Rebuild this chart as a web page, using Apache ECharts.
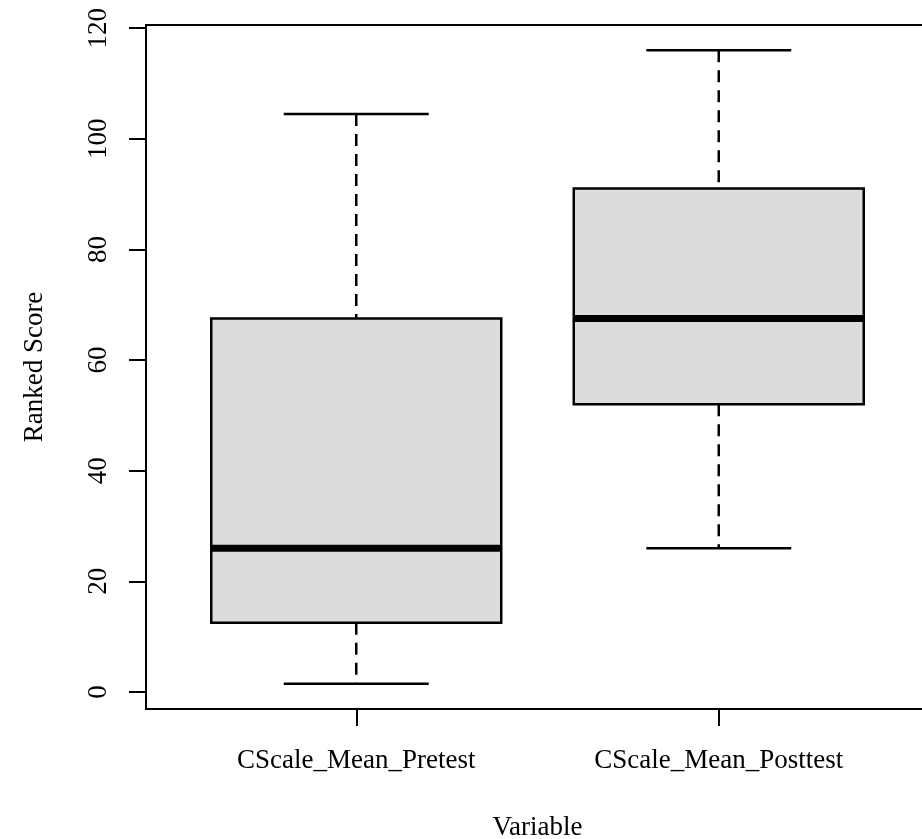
<!DOCTYPE html>
<html>
<head>
<meta charset="utf-8">
<script src="https://cdn.jsdelivr.net/npm/echarts@6/dist/echarts.min.js"></script>
<style>
html,body{margin:0;padding:0;background:#fff;}
#chart{width:922px;height:839px;}
</style>
</head>
<body>
<div id="chart"></div>
<script>
const categories = ['CScale_Mean_Pretest', 'CScale_Mean_Posttest'];
const lowWhisker = [1.5, 26];
const q1 = [12.5, 52];
const median = [26, 67.5];
const q3 = [67.5, 91];
const highWhisker = [104.5, 116];
const yTicks = [0, 20, 40, 60, 80, 100, 120];
const xTicks = [1, 2];

const FONT = '"Liberation Serif", "DejaVu Serif", serif';
const data = categories.map((c, i) => [i + 1, lowWhisker[i], q1[i], median[i], q3[i], highWhisker[i]]);

const chart = echarts.init(document.getElementById('chart'), null, {renderer: 'canvas'});
chart.setOption({
  animation: false,
  backgroundColor: '#fff',
  grid: {left: 146, top: 25, width: 783, height: 684, show: true, borderColor: '#000', borderWidth: 2,
    backgroundColor: 'transparent', containLabel: false, outerBoundsMode: 'none'},
  xAxis: {
    type: 'value', min: 0.42, max: 2.58,
    splitLine: {show: false},
    axisLine: {show: false, onZero: false},
    axisTick: {show: true, customValues: xTicks, length: 17, lineStyle: {color: '#000', width: 2}},
    axisLabel: {customValues: xTicks, formatter: v => categories[Math.round(v) - 1] || '', margin: 38,
      color: '#000', fontFamily: FONT, fontSize: 27},
    name: 'Variable', nameLocation: 'middle', nameGap: 105,
    nameTextStyle: {color: '#000', fontFamily: FONT, fontSize: 27}
  },
  yAxis: {
    type: 'value', min: -3.08, max: 120.58,
    splitLine: {show: false},
    axisLine: {show: false, onZero: false},
    axisTick: {show: true, customValues: yTicks, length: 17, lineStyle: {color: '#000', width: 2}},
    axisLabel: {customValues: yTicks, rotate: 90, margin: 34, color: '#000', fontFamily: FONT, fontSize: 27},
    name: 'Ranked Score', nameLocation: 'middle', nameGap: 98, nameRotate: 90,
    nameTextStyle: {color: '#000', fontFamily: FONT, fontSize: 27}
  },
  series: [{
    type: 'custom',
    data: data,
    encode: {x: 0, y: [1, 2, 3, 4, 5]},
    renderItem: function (params, api) {
      const x = api.value(0);
      const lo = api.coord([x, api.value(1)]);
      const b1 = api.coord([x, api.value(2)]);
      const md = api.coord([x, api.value(3)]);
      const b3 = api.coord([x, api.value(4)]);
      const hi = api.coord([x, api.value(5)]);
      const boxW = api.size([0.8, 0])[0];
      const capW = boxW / 2;
      const cx = lo[0];
      const dashed = {stroke: '#000', lineWidth: 2.5, lineDash: [12, 8]};
      const solid = {stroke: '#000', lineWidth: 2.5};
      return {
        type: 'group',
        children: [
          {type: 'line', shape: {x1: cx, y1: hi[1], x2: cx, y2: b3[1]}, style: dashed},
          {type: 'line', shape: {x1: cx, y1: b1[1], x2: cx, y2: lo[1]}, style: dashed},
          {type: 'line', shape: {x1: cx - capW / 2, y1: hi[1], x2: cx + capW / 2, y2: hi[1]}, style: solid},
          {type: 'line', shape: {x1: cx - capW / 2, y1: lo[1], x2: cx + capW / 2, y2: lo[1]}, style: solid},
          {type: 'rect', shape: {x: cx - boxW / 2, y: b3[1], width: boxW, height: b1[1] - b3[1]},
            style: {fill: '#dcdcdc', stroke: '#000', lineWidth: 2.5}},
          {type: 'line', shape: {x1: cx - boxW / 2, y1: md[1], x2: cx + boxW / 2, y2: md[1]},
            style: {stroke: '#000', lineWidth: 7}}
        ]
      };
    }
  }]
});
</script>
</body>
</html>
